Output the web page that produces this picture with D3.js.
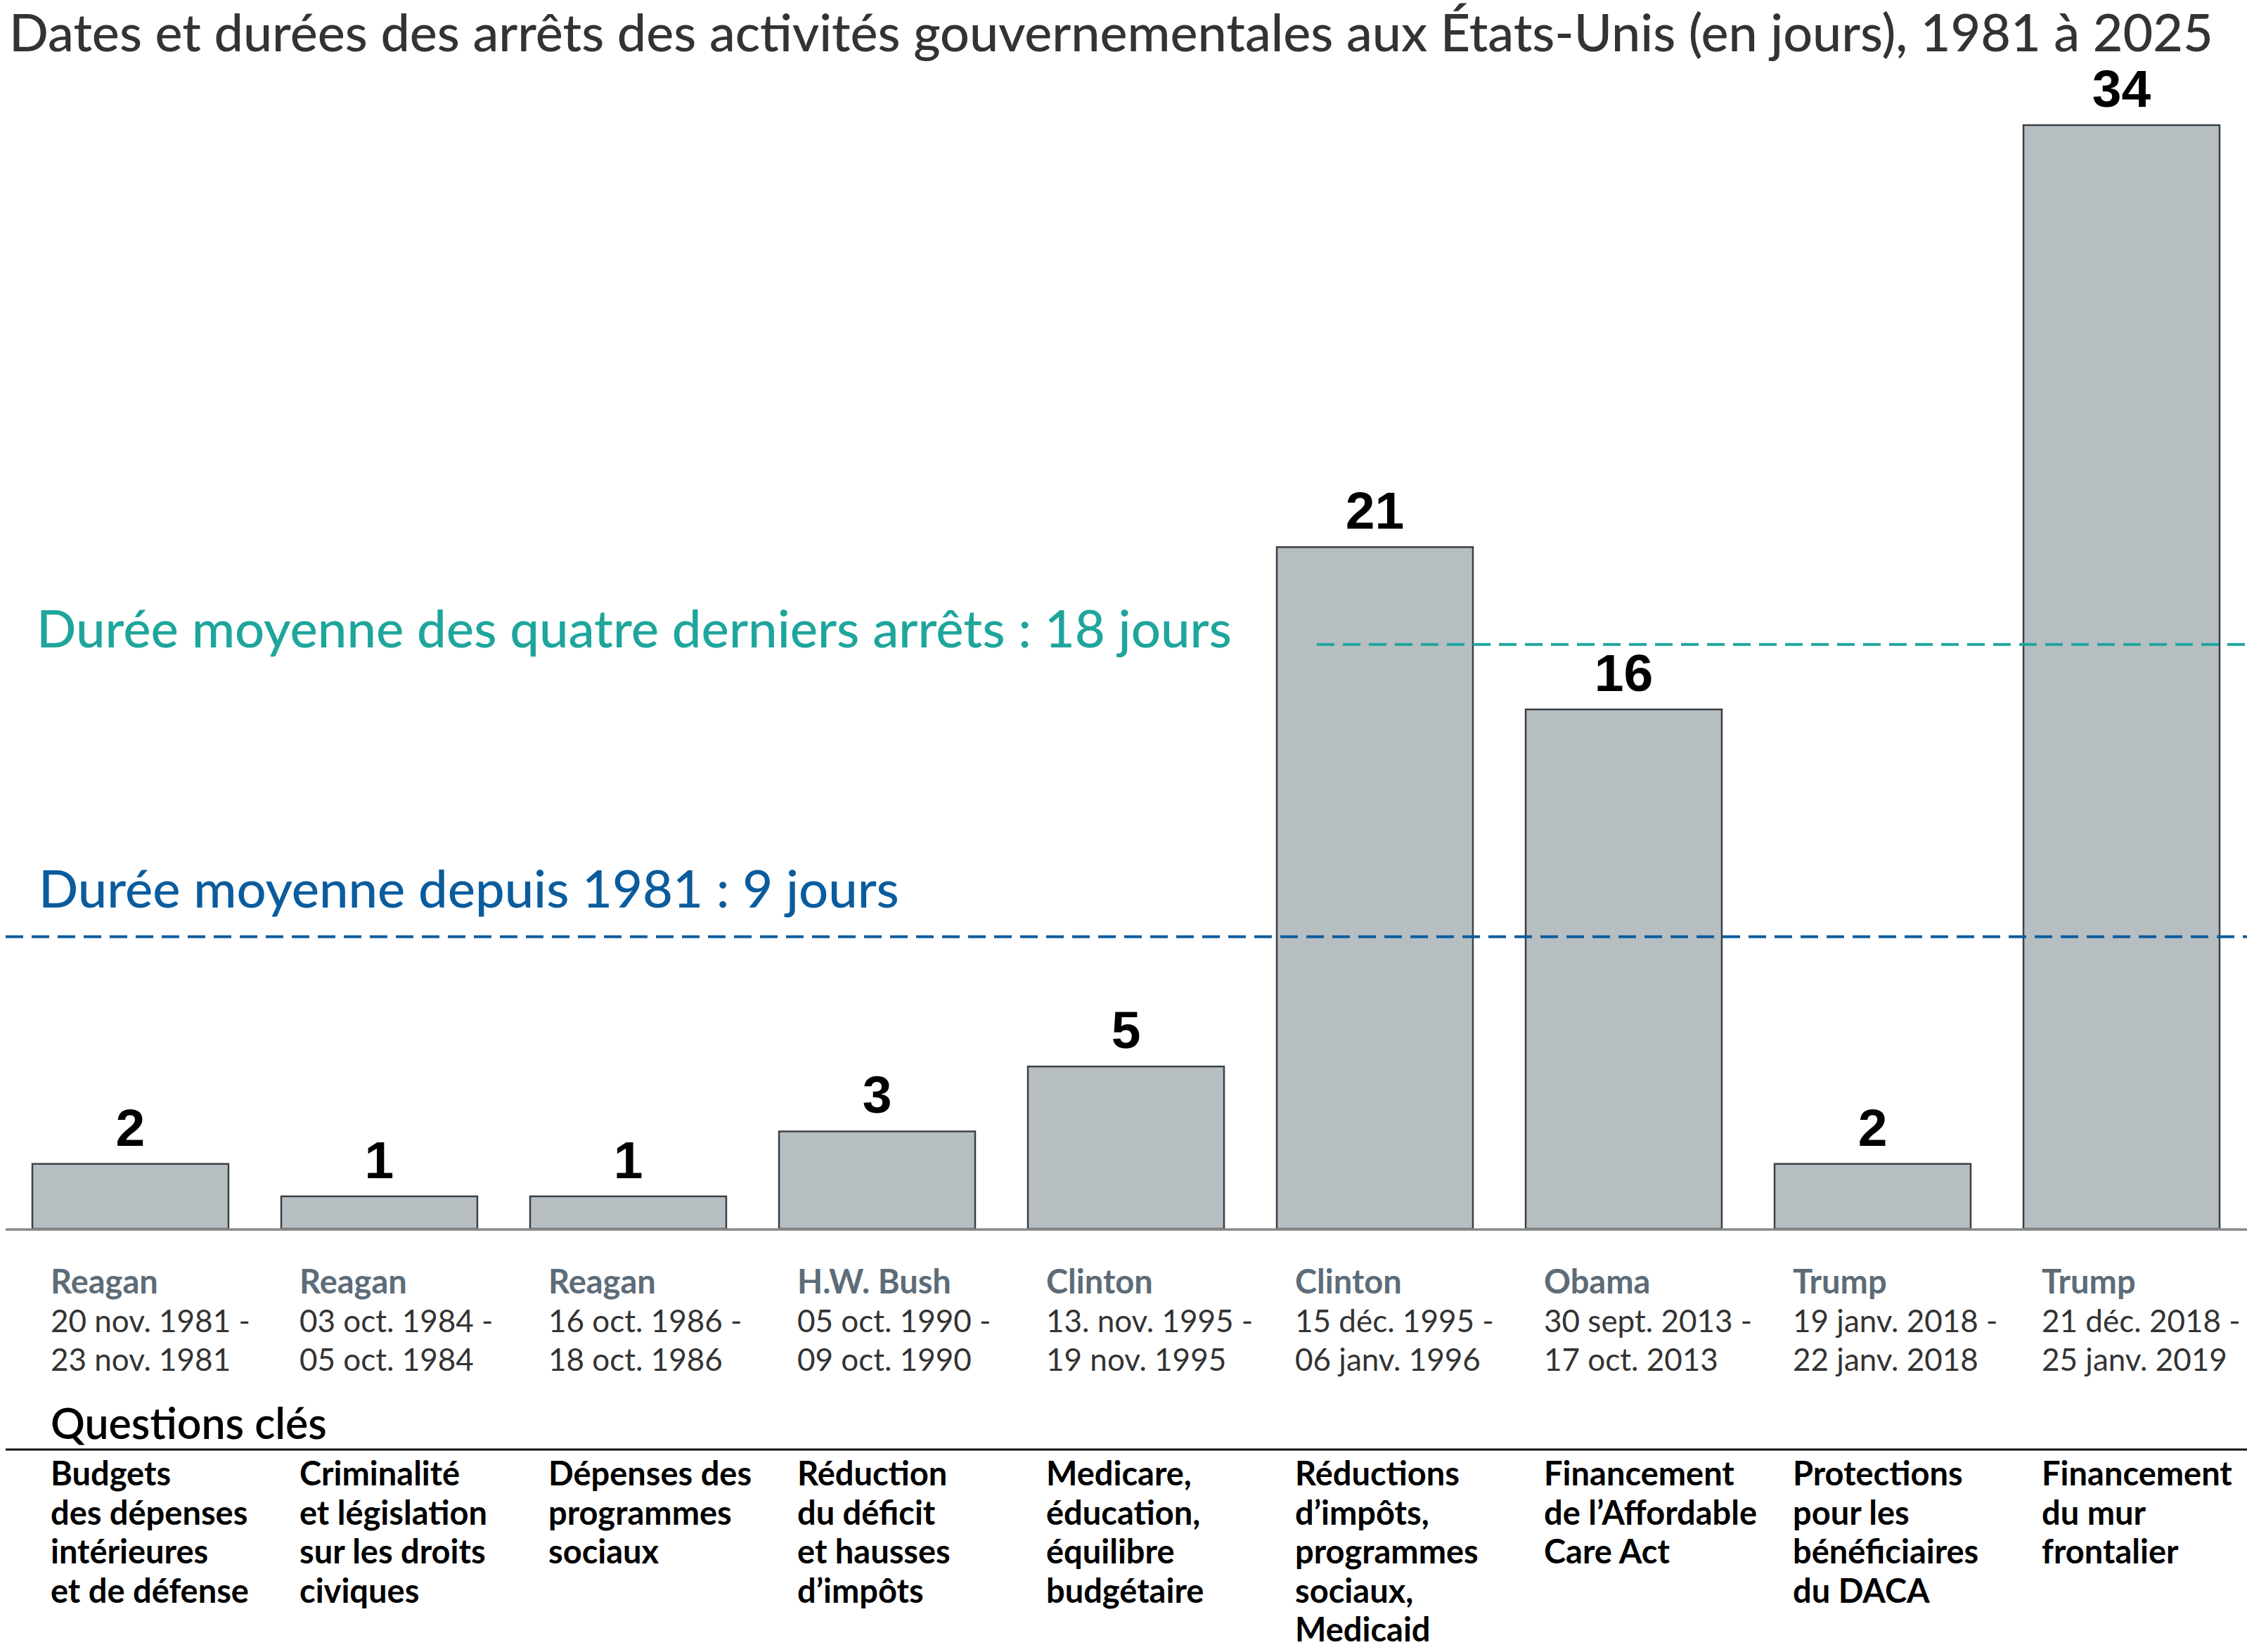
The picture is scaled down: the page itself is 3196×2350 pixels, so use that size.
<!DOCTYPE html>
<html>
	<head>
		<meta charset="utf-8"/>
		<script src="https://d3js.org/d3.v7.min.js"></script>
		<title>Arrêts des activités gouvernementales</title>
		<style type="text/css">
			body { margin: 0; background-color: white; }
			.title { font-family: Lato, sans-serif; font-weight: 500; font-size: 72px; fill: #333333; }
			.val { font-family: "Liberation Sans", Arial, sans-serif; font-weight: bold; font-size: 75px; fill: #000; }
			.pres { font-family: Lato, sans-serif; font-weight: bold; font-size: 47px; fill: #5d6c78; }
			.date { font-family: Lato, sans-serif; font-size: 44px; fill: #333333; }
			.issue { font-family: Lato, sans-serif; font-weight: bold; font-size: 47px; fill: #000; }
			.qhead { font-family: Lato, sans-serif; font-weight: 600; font-size: 58px; fill: #000; }
			.avg { font-family: Lato, sans-serif; font-weight: 500; font-size: 72px; }
		</style>
	</head>
	<body>
		<div id="svg_wrapper"></div>
		<script type="text/javascript">

		// data
		var presidents = ["Reagan", "Reagan", "Reagan", "H.W. Bush", "Clinton", "Clinton", "Obama", "Trump", "Trump"];
		var days = [2, 1, 1, 3, 5, 21, 16, 2, 34];
		var startDates = ["20 nov. 1981 -", "03 oct. 1984 -", "16 oct. 1986 -", "05 oct. 1990 -", "13. nov. 1995 -",
			"15 déc. 1995 -", "30 sept. 2013 -", "19 janv. 2018 -", "21 déc. 2018 -"];
		var endDates = ["23 nov. 1981", "05 oct. 1984", "18 oct. 1986", "09 oct. 1990", "19 nov. 1995",
			"06 janv. 1996", "17 oct. 2013", "22 janv. 2018", "25 janv. 2019"];
		var issues = [
			["Budgets", "des dépenses", "intérieures", "et de défense"],
			["Criminalité", "et législation", "sur les droits", "civiques"],
			["Dépenses des", "programmes", "sociaux"],
			["Réduction", "du déficit", "et hausses", "d’impôts"],
			["Medicare,", "éducation,", "équilibre", "budgétaire"],
			["Réductions", "d’impôts,", "programmes", "sociaux,", "Medicaid"],
			["Financement", "de l’Affordable", "Care Act"],
			["Protections", "pour les", "bénéficiaires", "du DACA"],
			["Financement", "du mur", "frontalier"]
		];
		var avgLabels = ["Durée moyenne des quatre derniers arrêts : 18 jours", "Durée moyenne depuis 1981 : 9 jours"];
		var avgValues = [18, 9];
		var titleText = "Dates et durées des arrêts des activités gouvernementales aux États-Unis (en jours), 1981 à 2025";

		var width = 3196, height = 2350;
		var baseY = 1748, topY = 178;
		var avgColors = ["#1ea59c", "#0a5c9d"];
		var avgStart = [1873, 8];

		var svg = d3.select("#svg_wrapper")
			.append("svg")
				.attr("width", width)
				.attr("height", height);

		// shrink or grow a text's font so it spans the wanted width
		function fitWidth(sel, target) {
			var w = sel.node().getComputedTextLength();
			var fs = parseFloat(window.getComputedStyle(sel.node()).fontSize);
			sel.style("font-size", (fs * target / w) + "px");
		}

		var idx = d3.range(days.length);

		var x = d3.scaleBand()
			.domain(idx)
			.range([46, 3157])
			.paddingInner(0.212)
			.paddingOuter(0);
		var y = d3.scaleLinear()
			.domain([0, d3.max(days)])
			.range([baseY, topY]);

		// title
		var title = svg.append("text")
			.attr("class", "title")
			.attr("x", 13)
			.attr("y", 73)
			.text(titleText);
		fitWidth(title, 3135);

		// bars
		svg.selectAll(".bar")
			.data(idx)
			.enter().append("rect")
			.attr("class", "bar")
			.attr("x", function(i) { return x(i); })
			.attr("y", function(i) { return y(days[i]); })
			.attr("width", x.bandwidth())
			.attr("height", function(i) { return baseY - y(days[i]); })
			.style("fill", "#b6bec2")
			.style("stroke", "#3b4046")
			.style("stroke-width", 2.5);

		// baseline
		svg.append("line")
			.attr("x1", 8).attr("x2", width)
			.attr("y1", baseY + 1).attr("y2", baseY + 1)
			.style("stroke", "#888")
			.style("stroke-width", 3.5);

		// value labels
		svg.selectAll(".val")
			.data(idx)
			.enter().append("text")
			.attr("class", "val")
			.attr("x", function(i) { return x(i) + x.bandwidth() / 2; })
			.attr("y", function(i) { return y(days[i]) - 26; })
			.style("text-anchor", "middle")
			.text(function(i) { return days[i]; });

		// average lines and labels
		avgValues.forEach(function(v, k) {
			svg.append("line")
				.attr("x1", avgStart[k]).attr("x2", width)
				.attr("y1", y(v)).attr("y2", y(v))
				.style("stroke", avgColors[k])
				.style("stroke-width", 4)
				.style("stroke-dasharray", "25,12");
		});
		var avg1 = svg.append("text")
			.attr("class", "avg")
			.attr("x", 52)
			.attr("y", y(avgValues[0]) + 4)
			.style("fill", avgColors[0])
			.text(avgLabels[0]);
		fitWidth(avg1, 1700);
		var avg2 = svg.append("text")
			.attr("class", "avg")
			.attr("x", 55)
			.attr("y", y(avgValues[1]) - 41)
			.style("fill", avgColors[1])
			.text(avgLabels[1]);
		fitWidth(avg2, 1224);

		// president and dates under each bar
		var col = svg.selectAll(".col")
			.data(idx)
			.enter().append("g")
			.attr("class", "col")
			.attr("transform", function(i) { return "translate(" + (x(i) + 26) + ",0)"; });
		col.append("text")
			.attr("class", "pres")
			.attr("y", 1840)
			.text(function(i) { return presidents[i]; });
		col.append("text")
			.attr("class", "date")
			.attr("y", 1895)
			.text(function(i) { return startDates[i]; });
		col.append("text")
			.attr("class", "date")
			.attr("y", 1950)
			.text(function(i) { return endDates[i]; });

		// key issues block
		var qhead = svg.append("text")
			.attr("class", "qhead")
			.attr("x", 72)
			.attr("y", 2047)
			.text("Questions clés");
		fitWidth(qhead, 393);
		svg.append("line")
			.attr("x1", 8).attr("x2", width)
			.attr("y1", 2062).attr("y2", 2062)
			.style("stroke", "#111")
			.style("stroke-width", 3);
		col.selectAll(".issue")
			.data(function(i) { return issues[i]; })
			.enter().append("text")
			.attr("class", "issue")
			.attr("y", function(d, j) { return 2113 + j * 55.5; })
			.text(function(d) { return d; });

		</script>
	</body>
</html>
